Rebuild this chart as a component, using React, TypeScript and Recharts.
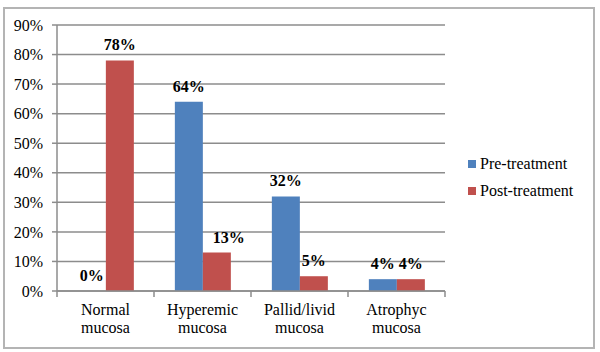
import { BarChart, Bar, XAxis, YAxis, CartesianGrid, LabelList } from 'recharts';

// categories, two-line tick labels as in the original figure
const categories = ['Normal mucosa', 'Hyperemic mucosa', 'Pallid/livid mucosa', 'Atrophyc mucosa'];
const categoryLines = [
    ['Normal', 'mucosa'],
    ['Hyperemic', 'mucosa'],
    ['Pallid/livid', 'mucosa'],
    ['Atrophyc', 'mucosa'],
];

// values in percent
const preTreatment = [0, 64, 32, 4];
const postTreatment = [78, 13, 5, 4];

const yTicks = [0, 10, 20, 30, 40, 50, 60, 70, 80, 90];

const seriesNames = ['Pre-treatment', 'Post-treatment'];

const BLUE = '#4f81bd';
const RED = '#c0504d';
const GRID = '#8c8c8c';
const FONT = "'Liberation Serif', Tinos, 'DejaVu Serif', serif";

const data = categories.map((name, i) => ({
    name,
    pre: preTreatment[i],
    post: postTreatment[i],
}));

const CategoryTick = (props: any) => {
    const { x, y, payload, index } = props;
    const half = payload && payload.offset ? payload.offset : 48.5;
    const lines = categoryLines[index] || [String(payload.value)];
    return (
        <g>
            <line x1={x - half} y1={y} x2={x - half} y2={y + 6} stroke={GRID} strokeWidth={1.5} />
            {index === categories.length - 1 && (
                <line x1={x + half} y1={y} x2={x + half} y2={y + 6} stroke={GRID} strokeWidth={1.5} />
            )}
            {lines.map((t: string, k: number) => (
                <text key={k} x={x} y={y + 24 + k * 18} textAnchor="middle" fontFamily={FONT} fontSize={16} fill="#000">
                    {t}
                </text>
            ))}
        </g>
    );
};

// value label above a bar; the original nudges the 13% label a little to the right
const makeLabel = (shift: number[]) => (props: any) => {
    const { x, y, width, value, index } = props;
    return (
        <text
            x={x + width / 2 + (shift[index] || 0)}
            y={y - 10}
            textAnchor="middle"
            fontFamily={FONT}
            fontSize={16}
            fontWeight="bold"
            fill="#000"
        >
            {`${value}%`}
        </text>
    );
};

export default function App() {
    return (
        <div style={{ position: 'absolute', left: 0, top: 0, width: 600, height: 352, background: '#fff' }}>
            <div
                style={{
                    position: 'absolute',
                    left: 3,
                    top: 7,
                    width: 588,
                    height: 338,
                    border: '2px solid #b4b4b4',
                }}
            />
            <div style={{ position: 'absolute', left: 0, top: 0 }}>
                <BarChart
                    width={600}
                    height={352}
                    data={data}
                    margin={{ top: 25, right: 155, left: 0, bottom: 0 }}
                    barCategoryGap="21.5%"
                    barGap={0}
                >
                    <CartesianGrid vertical={false} stroke={GRID} strokeWidth={1.5} />
                    <XAxis
                        dataKey="name"
                        height={61}
                        tickSize={0}
                        tickMargin={0}
                        tickLine={false}
                        axisLine={{ stroke: GRID, strokeWidth: 1.5 }}
                        interval={0}
                        tick={<CategoryTick />}
                    />
                    <YAxis
                        width={57}
                        domain={[0, 90]}
                        ticks={yTicks}
                        interval={0}
                        tickSize={5}
                        tickMargin={9}
                        tickFormatter={(v) => `${v}%`}
                        tick={{ fontFamily: FONT, fontSize: 16, fill: '#000' }}
                        tickLine={{ stroke: GRID, strokeWidth: 1.5 }}
                        axisLine={{ stroke: GRID, strokeWidth: 1.5 }}
                    />
                    <Bar dataKey="pre" name={seriesNames[0]} fill={BLUE} minPointSize={0.01} isAnimationActive={false}>
                        <LabelList dataKey="pre" content={makeLabel([0, 0, 0, 0])} />
                    </Bar>
                    <Bar dataKey="post" name={seriesNames[1]} fill={RED} isAnimationActive={false}>
                        <LabelList dataKey="post" content={makeLabel([0, 12, 0, 0])} />
                    </Bar>
                </BarChart>
            </div>
            {/* legend sits to the right of the plot, outside recharts' layout */}
            <div style={{ position: 'absolute', left: 468, top: 150, fontFamily: FONT, fontSize: 16, color: '#000' }}>
                {[BLUE, RED].map((color, i) => (
                    <div key={seriesNames[i]} style={{ display: 'flex', alignItems: 'center', height: 27 }}>
                        <span style={{ display: 'inline-block', width: 8, height: 8, background: color, marginRight: 4 }} />
                        <span>{seriesNames[i]}</span>
                    </div>
                ))}
            </div>
        </div>
    );
}
